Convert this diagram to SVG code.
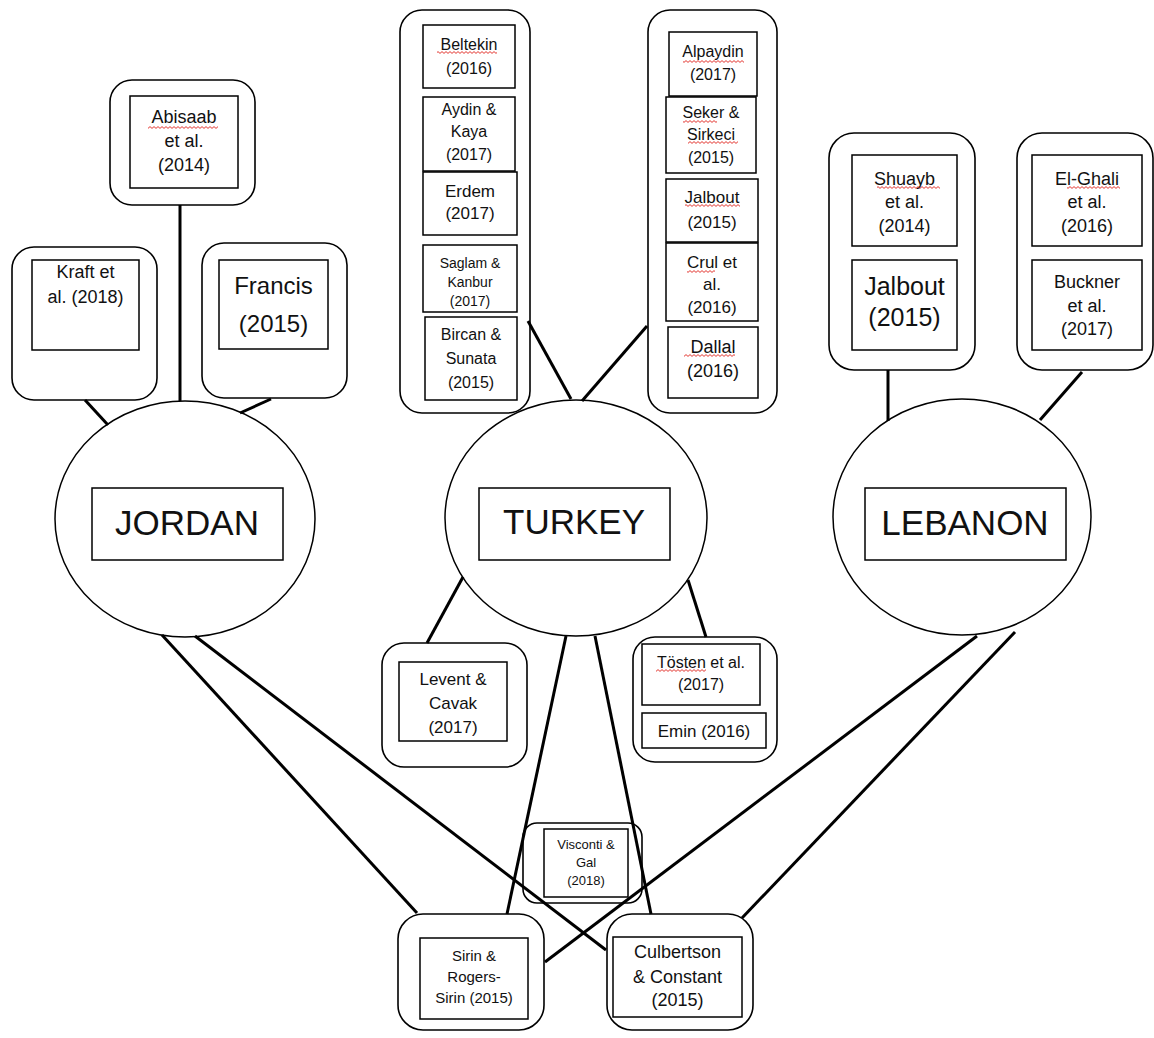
<svg xmlns="http://www.w3.org/2000/svg" width="1154" height="1038" viewBox="0 0 1154 1038">
<style>
  .outer{fill:#fff;stroke:#000;stroke-width:1.6}
  .inner{fill:#fff;stroke:#000;stroke-width:1.5}
  .country{fill:#fff;stroke:#000;stroke-width:1.5}
  .conn line{stroke:#000;stroke-width:3;stroke-linecap:butt}
  text{font-family:"Liberation Sans",Arial,sans-serif;fill:#111;text-anchor:middle}
  .f14{font-size:14px}.f13{font-size:13px}.f15{font-size:15px}.f16{font-size:16px}.f17{font-size:17px}.f18{font-size:18px}.f24{font-size:24px}.f25{font-size:25px}
  .big{font-size:35px}
  .sq{fill:url(#sq)}
</style>
<defs>
  <pattern id="sq" width="4" height="3" patternUnits="userSpaceOnUse">
    <path d="M0,2.4 L2,0.6 L4,2.4" fill="none" stroke="#e0201a" stroke-width="0.9"/>
  </pattern>
</defs>
<rect width="1154" height="1038" fill="#fff"/>

<!-- Jordan -->
<g id="jordan">
  <ellipse class="country" cx="185" cy="519" rx="130" ry="118"/>
  <rect class="inner" x="92" y="488" width="191" height="72"/>
  <text class="big" x="187" y="535">JORDAN</text>
</g>
<g id="kraft">
  <rect class="outer" x="12" y="247" width="145" height="153" rx="22"/>
  <rect class="inner" x="32" y="260" width="107" height="90"/>
  <text class="f18" x="85.5" y="278">Kraft et</text>
  <text class="f18" x="85.5" y="303">al. (2018)</text>
</g>
<g id="abisaab">
  <rect class="outer" x="110" y="80" width="145" height="125" rx="22"/>
  <rect class="inner" x="130" y="96" width="108" height="92"/>
  <text class="f18" x="184" y="123">Abisaab</text>
  <text class="f18" x="184" y="147">et al.</text>
  <text class="f18" x="184" y="171">(2014)</text>
  <rect class="sq" x="148" y="126" width="70" height="3"/>
</g>
<g id="francis">
  <rect class="outer" x="202" y="243" width="145" height="155" rx="22"/>
  <rect class="inner" x="219" y="260" width="109" height="89"/>
  <text class="f24" x="273.5" y="294">Francis</text>
  <text class="f24" x="273.5" y="332">(2015)</text>
</g>

<!-- Turkey -->
<g id="turkey">
  <ellipse class="country" cx="576" cy="518" rx="131" ry="118"/>
  <rect class="inner" x="479" y="488" width="191" height="72"/>
  <text class="big" x="574" y="534">TURKEY</text>
</g>
<g id="turkey-left">
  <rect class="outer" x="400" y="10" width="130" height="403" rx="22"/>
  <rect class="inner" x="423" y="25" width="92" height="63"/>
  <text class="f16" x="469" y="50">Beltekin</text>
  <text class="f16" x="469" y="74">(2016)</text>
  <rect class="sq" x="437" y="51" width="60" height="3"/>
  <rect class="inner" x="423" y="97" width="92" height="74"/>
  <text class="f16" x="469" y="115">Aydin &amp;</text>
  <text class="f16" x="469" y="137">Kaya</text>
  <text class="f16" x="469" y="160">(2017)</text>
  <rect class="inner" x="423" y="172" width="94" height="63"/>
  <text class="f17" x="470" y="197">Erdem</text>
  <text class="f17" x="470" y="219">(2017)</text>
  <rect class="inner" x="423" y="245" width="94" height="67"/>
  <text class="f14" x="470" y="268">Saglam &amp;</text>
  <text class="f14" x="470" y="287">Kanbur</text>
  <text class="f14" x="470" y="306">(2017)</text>
  <rect class="inner" x="425" y="317" width="92" height="83"/>
  <text class="f16" x="471" y="340">Bircan &amp;</text>
  <text class="f16" x="471" y="364">Sunata</text>
  <text class="f16" x="471" y="388">(2015)</text>
</g>
<g id="turkey-right">
  <rect class="outer" x="648" y="10" width="129" height="403" rx="22"/>
  <rect class="inner" x="669" y="32" width="88" height="64"/>
  <text class="f16" x="713" y="57">Alpaydin</text>
  <text class="f16" x="713" y="80">(2017)</text>
  <rect class="sq" x="683" y="60" width="61" height="3"/>
  <rect class="inner" x="666" y="97" width="90" height="76"/>
  <text class="f16" x="711" y="118">Seker &amp;</text>
  <text class="f16" x="711" y="140">Sirkeci</text>
  <text class="f16" x="711" y="163">(2015)</text>
  <rect class="sq" x="683" y="120" width="34" height="3"/>
  <rect class="sq" x="688" y="141" width="50" height="3"/>
  <rect class="inner" x="666" y="179" width="92" height="63"/>
  <text class="f17" x="712" y="203">Jalbout</text>
  <text class="f17" x="712" y="228">(2015)</text>
  <rect class="sq" x="685" y="204" width="55" height="3"/>
  <rect class="inner" x="666" y="243" width="92" height="78"/>
  <text class="f17" x="712" y="268">Crul et</text>
  <text class="f17" x="712" y="290">al.</text>
  <text class="f17" x="712" y="313">(2016)</text>
  <rect class="sq" x="687" y="270" width="28" height="3"/>
  <rect class="inner" x="668" y="327" width="90" height="71"/>
  <text class="f18" x="713" y="353">Dallal</text>
  <text class="f18" x="713" y="377">(2016)</text>
  <rect class="sq" x="684" y="354" width="51" height="3"/>
</g>
<g id="levent">
  <rect class="outer" x="382" y="643" width="145" height="124" rx="22"/>
  <rect class="inner" x="399" y="662" width="108" height="79"/>
  <text class="f17" x="453" y="685">Levent &amp;</text>
  <text class="f17" x="453" y="709">Cavak</text>
  <text class="f17" x="453" y="733">(2017)</text>
</g>
<g id="tosten">
  <rect class="outer" x="633" y="637" width="144" height="125" rx="22"/>
  <rect class="inner" x="642" y="644" width="118" height="61"/>
  <text class="f16" x="701" y="668">Tösten et al.</text>
  <text class="f16" x="701" y="690">(2017)</text>
  <rect class="sq" x="656" y="669" width="50" height="3"/>
  <rect class="inner" x="642" y="713" width="124" height="35"/>
  <text class="f17" x="704" y="737">Emin (2016)</text>
</g>

<!-- Lebanon -->
<g id="lebanon">
  <ellipse class="country" cx="962" cy="517" rx="129" ry="118"/>
  <rect class="inner" x="865" y="488" width="201" height="72"/>
  <text class="big" x="965" y="535">LEBANON</text>
</g>
<g id="lebanon-left">
  <rect class="outer" x="829" y="133" width="146" height="237" rx="25"/>
  <rect class="inner" x="852" y="155" width="105" height="91"/>
  <text class="f18" x="904.5" y="185">Shuayb</text>
  <text class="f18" x="904.5" y="208">et al.</text>
  <text class="f18" x="904.5" y="232">(2014)</text>
  <rect class="sq" x="877" y="186" width="63" height="3"/>
  <rect class="inner" x="852" y="260" width="105" height="90"/>
  <text class="f25" x="904.5" y="295">Jalbout</text>
  <text class="f25" x="904.5" y="326">(2015)</text>
</g>
<g id="lebanon-right">
  <rect class="outer" x="1017" y="133" width="136" height="237" rx="25"/>
  <rect class="inner" x="1032" y="155" width="110" height="91"/>
  <text class="f18" x="1087" y="185">El-Ghali</text>
  <text class="f18" x="1087" y="208">et al.</text>
  <text class="f18" x="1087" y="232">(2016)</text>
  <rect class="sq" x="1067" y="186" width="53" height="3"/>
  <rect class="inner" x="1032" y="260" width="110" height="90"/>
  <text class="f18" x="1087" y="288">Buckner</text>
  <text class="f18" x="1087" y="312">et al.</text>
  <text class="f18" x="1087" y="335">(2017)</text>
</g>

<!-- Shared -->
<g id="visconti">
  <rect class="outer" x="523" y="823" width="119" height="80" rx="14" style="fill:none"/>
  <rect class="inner" x="544" y="829" width="84" height="68"/>
  <text class="f13" x="586" y="849">Visconti &amp;</text>
  <text class="f13" x="586" y="867">Gal</text>
  <text class="f13" x="586" y="885">(2018)</text>
</g>
<g id="sirin">
  <rect class="outer" x="398" y="914" width="146" height="116" rx="25"/>
  <rect class="inner" x="420" y="938" width="108" height="81"/>
  <text class="f15" x="474" y="961">Sirin &amp;</text>
  <text class="f15" x="474" y="982">Rogers-</text>
  <text class="f15" x="474" y="1003">Sirin (2015)</text>
</g>
<g id="culbertson">
  <rect class="outer" x="607" y="914" width="146" height="116" rx="25"/>
  <rect class="inner" x="613" y="937" width="129" height="80"/>
  <text class="f18" x="677.5" y="958">Culbertson</text>
  <text class="f18" x="677.5" y="983">&amp; Constant</text>
  <text class="f18" x="677.5" y="1006">(2015)</text>
</g>

<g id="connectors" class="conn">
  <line x1="85" y1="400" x2="108" y2="425"/>
  <line x1="180" y1="205" x2="180" y2="401"/>
  <line x1="271" y1="399" x2="240" y2="413"/>
  <line x1="528" y1="321" x2="571" y2="399"/>
  <line x1="647" y1="326" x2="582" y2="401"/>
  <line x1="888" y1="370" x2="888" y2="421"/>
  <line x1="1082" y1="372" x2="1040" y2="420"/>
  <line x1="463" y1="577" x2="427" y2="643"/>
  <line x1="688" y1="580" x2="706" y2="637"/>
  <line x1="162" y1="635" x2="417" y2="913"/>
  <line x1="195" y1="636" x2="606" y2="950"/>
  <line x1="566" y1="636" x2="507" y2="914"/>
  <line x1="595" y1="636" x2="651" y2="914"/>
  <line x1="977" y1="636" x2="545" y2="962"/>
  <line x1="1015" y1="632" x2="742" y2="918"/>
</g>
</svg>
